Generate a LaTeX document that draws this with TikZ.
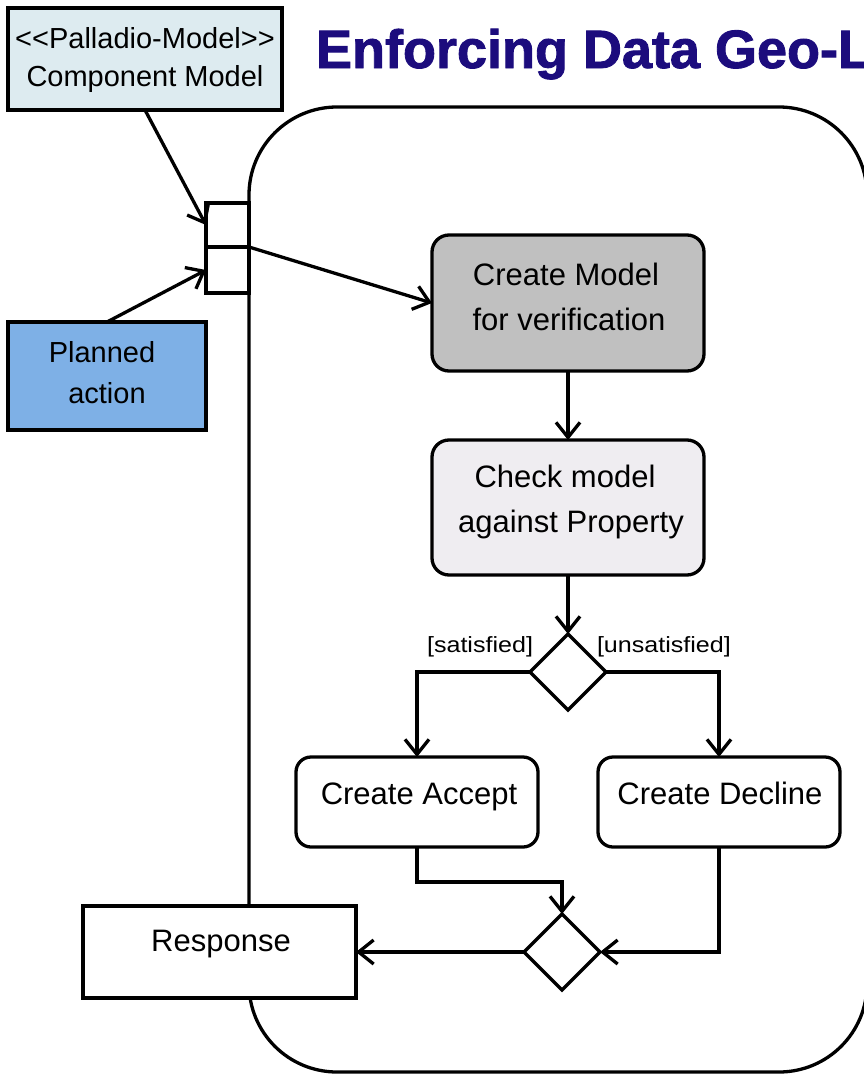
\documentclass[tikz,border=0pt]{standalone}
\usepackage{fontspec}
\setmainfont{Liberation Sans}
\newfontfamily\guardfont[FakeStretch=1.14]{Liberation Sans}
\newfontfamily\titlefont[FakeBold=1.6]{Liberation Sans Bold}
\usetikzlibrary{arrows.meta,shapes.geometric,calc}

\definecolor{titleblue}{RGB}{28,12,125}
\definecolor{compfill}{RGB}{221,235,240}
\definecolor{planfill}{RGB}{126,176,230}
\definecolor{modelfill}{RGB}{192,192,192}
\definecolor{checkfill}{RGB}{239,237,241}

\begin{document}
\begin{tikzpicture}[x=1pt,y=-1pt,line width=3.3pt,
  every node/.style={inner sep=0pt,outer sep=0pt},
  flow/.style={-{Straight Barb[length=15pt,width=24pt]}},
  actbox/.style={draw,rounded corners=17pt},
  plainbox/.style={draw,rectangle},
  choice/.style={draw,diamond,fill=white,minimum width=76pt,minimum height=76pt},
  big/.style={anchor=base,font=\fontsize{31}{31}\selectfont},
  mid/.style={anchor=base,font=\fontsize{29}{29}\selectfont},
  guard/.style={font=\guardfont\fontsize{22}{22}\selectfont}]

\useasboundingbox (0,0) rectangle (864,1074);

% activity frame
\coordinate (frameNW) at (249,107);
\coordinate (frameSE) at (867,1072);
\draw[rounded corners=88pt] (frameNW) rectangle (frameSE);

% title
\node[anchor=base west,text=titleblue,font=\titlefont\fontsize{54}{54}\selectfont]
  (title) at (316,68) {Enforcing Data Geo-L};

% input model and planned action
\node[plainbox,fill=compfill,minimum width=274pt,minimum height=102pt] (comp) at (145,59) {};
\node[mid] (compA) at (145,48) {<\kern0pt<Palladio-Model>\kern0pt>};
\node[mid] (compB) at (145,86) {Component Model};

\node[plainbox,fill=planfill,minimum width=198pt,minimum height=108pt] (plan) at (107,376) {};
\node[mid] (planA) at (102,362) {Planned};
\node[mid] (planB) at (107,403) {action};

% input pins
\node[plainbox,fill=white,minimum width=43pt,minimum height=44pt] (pinA) at (227.5,225) {};
\node[plainbox,fill=white,minimum width=43pt,minimum height=46pt] (pinB) at (227.5,270) {};

% actions
\node[actbox,fill=modelfill,minimum width=272pt,minimum height=136pt] (create) at (568,303) {};
\node[big] (createA) at (566,285) {Create Model};
\node[big] (createB) at (569,330) {for verification};

\node[actbox,fill=checkfill,minimum width=272pt,minimum height=135pt] (check) at (568,507.5) {};
\node[big] (checkA) at (565,487) {Check model};
\node[big] (checkB) at (571,532) {against Property};

\node[choice] (dec) at (568,672) {};
\node[guard,anchor=east] (satL) at (533,647) {[satisfied]};
\node[guard,anchor=west] (unsatL) at (597,647) {[unsatisfied]};

\node[actbox,rounded corners=15pt,fill=white,minimum width=242pt,minimum height=90pt] (accept) at (417,802) {};
\node[big] (acceptT) at (419,804) {Create Accept};
\node[actbox,rounded corners=15pt,fill=white,minimum width=242pt,minimum height=90pt] (decline) at (719,802) {};
\node[big] (declineT) at (720,804) {Create Decline};

\node[choice] (merge) at (562,952) {};

\node[plainbox,fill=white,minimum width=273pt,minimum height=92pt] (resp) at (219.5,952) {};
\node[big] (respT) at (221,951) {Response};

% flows
\draw[flow] (comp.south) -- (pinA.west);
\draw[flow] (plan.north) -- (pinB.west);
\draw[flow] (pinA.south east) -- (create.west);
\draw[flow] (create.south) -- (check.north);
\draw[flow] (check.south) -- (dec.north);
\draw[flow] (dec.west) -| (accept.north);
\draw[flow] (dec.east) -| (decline.north);
\draw[flow] (accept.south) -- ++(0,35) -| (merge.north);
\draw[flow] (decline.south) |- (merge.east);
\draw[flow] (merge.west) -- (resp.east);
\end{tikzpicture}
\end{document}
